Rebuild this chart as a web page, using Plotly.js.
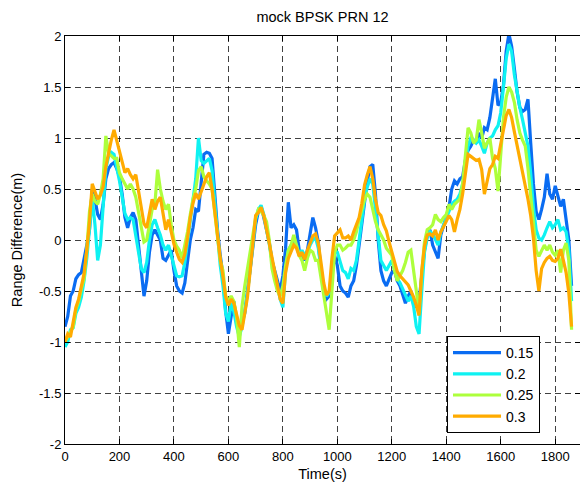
<!DOCTYPE html>
<html>
<head>
<meta charset="utf-8">
<script src="https://cdn.plot.ly/plotly-3.0.1.min.js"></script>
<style>
  html, body { margin: 0; padding: 0; background: #fff; }
  #chart { width: 580px; height: 487px; }
</style>
</head>
<body>
<div id="chart"></div>
<script>
// Range difference (m) versus time, sampled every 10 s from t = 0 to 1860 s,
// for four correlator spacings.
const timeStart = 0;
const timeStep = 10;

const series015 = [
  -0.85, -0.75, -0.55, -0.50, -0.38, -0.34, -0.32, -0.20, -0.05, 0.10,
  0.50, 0.40, 0.25, 0.20, 0.35, 0.60, 0.70, 0.74, 0.76, 0.70,
  0.62, 0.45, 0.22, 0.12, 0.22, 0.27, 0.20, -0.05, -0.30, -0.55,
  -0.40, -0.12, 0.05, 0.10, 0.05, 0.00, -0.18, -0.20, -0.15, -0.10,
  -0.30, -0.45, -0.50, -0.52, -0.42, -0.20, 0.00, 0.12, 0.30, 0.28,
  0.60, 0.84, 0.86, 0.85, 0.80, 0.40, 0.10, -0.15, -0.35, -0.70,
  -0.92, -0.75, -0.60, -0.80, -0.92, -0.80, -0.72, -0.50, -0.28, -0.05,
  0.15, 0.28, 0.33, 0.22, 0.10, -0.02, -0.20, -0.30, -0.42, -0.50,
  -0.35, -0.08, 0.37, 0.12, 0.15, 0.10, -0.10, -0.15, -0.20, -0.10,
  0.05, 0.22, 0.12, -0.02, -0.30, -0.50, -0.58, -0.55, -0.35, -0.15,
  -0.25, -0.45, -0.50, -0.52, -0.56, -0.45, -0.40, -0.25, -0.05, 0.15,
  0.40, 0.58, 0.72, 0.74, 0.45, 0.00, -0.30, -0.40, -0.45, -0.38,
  -0.32, -0.30, -0.40, -0.45, -0.55, -0.62, -0.55, -0.50, -0.60, -0.66,
  -0.60, -0.35, -0.10, 0.05, 0.10, -0.05, -0.12, -0.18, 0.05, 0.15,
  0.25, 0.32, 0.50, 0.58, 0.55, 0.60, 0.62, 0.78, 0.88, 0.92,
  0.98, 0.95, 1.05, 1.00, 1.10, 1.08, 1.20, 1.40, 1.58, 1.32,
  1.35, 1.52, 1.85, 2.02, 1.90, 1.68, 1.45, 1.30, 1.26, 1.28,
  1.38, 0.95, 0.55, 0.28, 0.20, 0.30, 0.42, 0.65, 0.45, 0.40,
  0.53, 0.43, 0.33, 0.40, 0.20, 0.00, -0.45
];

const series020 = [
  -1.05, -1.00, -0.88, -0.86, -0.72, -0.66, -0.56, -0.40, -0.18, 0.12,
  0.40, 0.15, -0.20, -0.05, 0.35, 0.70, 0.82, 0.86, 0.84, 0.72,
  0.58, 0.42, 0.26, 0.20, 0.22, 0.20, 0.06, -0.12, -0.28, -0.32,
  -0.22, 0.00, 0.15, 0.20, 0.12, 0.05, -0.05, -0.10, -0.05, -0.15,
  -0.28, -0.35, -0.36, -0.35, -0.22, 0.00, 0.20, 0.38, 0.60, 1.00,
  0.78, 0.75, 0.78, 0.80, 0.68, 0.38, 0.05, -0.25, -0.45, -0.72,
  -0.80, -0.62, -0.70, -0.85, -0.95, -0.85, -0.70, -0.52, -0.28, 0.00,
  0.20, 0.30, 0.34, 0.25, 0.12, -0.04, -0.20, -0.32, -0.46, -0.58,
  -0.66, -0.30, -0.10, -0.05, -0.02, -0.05, -0.15, -0.10, -0.15, -0.12,
  -0.05, 0.00, 0.02, -0.08, -0.28, -0.46, -0.55, -0.52, -0.30, -0.10,
  -0.12, -0.22, -0.30, -0.32, -0.38, -0.28, -0.30, -0.20, 0.00, 0.20,
  0.40, 0.52, 0.60, 0.55, 0.30, 0.05, -0.20, -0.25, -0.30, -0.25,
  -0.20, -0.30, -0.38, -0.42, -0.48, -0.55, -0.60, -0.55, -0.65, -0.85,
  -0.92, -0.50, -0.12, 0.02, 0.08, 0.06, 0.00, -0.05, 0.08, 0.15,
  0.20, 0.28, 0.35, 0.38, 0.40, 0.45, 0.55, 0.72, 0.92, 1.00,
  0.98, 0.95, 0.98, 0.92, 0.85, 0.95, 1.00, 1.02, 1.08, 1.12,
  1.25, 1.50, 1.78, 1.92, 1.85, 1.62, 1.45, 1.30, 1.18, 1.05,
  0.92, 0.65, 0.32, 0.10, 0.02, 0.00, 0.05, 0.12, 0.18, 0.12,
  0.15, 0.20, 0.10, 0.12, 0.08, -0.10, -0.60
];

const series025 = [
  -1.00, -0.95, -0.90, -0.85, -0.68, -0.60, -0.48, -0.38, -0.10, 0.28,
  0.45, 0.38, 0.35, 0.45, 0.60, 1.02, 0.85, 0.82, 0.80, 0.80,
  0.66, 0.60, 0.55, 0.50, 0.55, 0.50, 0.42, 0.26, 0.12, -0.02,
  0.00, 0.15, 0.30, 0.35, 0.69, 0.50, 0.38, 0.30, 0.35, 0.15,
  0.00, -0.06, -0.10, -0.18, -0.05, 0.08, 0.25, 0.40, 0.50, 0.68,
  0.72, 0.62, 0.58, 0.55, 0.50, 0.25, -0.02, -0.20, -0.30, -0.55,
  -0.60, -0.55, -0.60, -0.75, -1.05, -0.65, -0.45, -0.28, -0.12, 0.05,
  0.22, 0.30, 0.28, 0.24, 0.18, 0.00, -0.28, -0.40, -0.50, -0.55,
  -0.45, -0.25, -0.10, -0.05, 0.05, -0.05, -0.15, -0.20, -0.30, -0.18,
  -0.10, -0.12, -0.20, -0.20, -0.38, -0.55, -0.72, -0.88, -0.50, -0.12,
  -0.05, -0.05, -0.10, -0.08, -0.05, -0.05, 0.00, 0.08, 0.20, 0.30,
  0.40, 0.45, 0.42, 0.30, 0.18, 0.10, 0.05, 0.00, -0.08, -0.12,
  -0.15, -0.30, -0.40, -0.35, -0.30, -0.22, -0.12, -0.10, -0.30, -0.55,
  -0.70, -0.32, -0.02, 0.10, 0.12, 0.15, 0.25, 0.20, 0.18, 0.22,
  0.25, 0.35, 0.30, 0.35, 0.38, 0.40, 0.55, 0.80, 1.10, 1.05,
  0.95, 0.98, 1.18, 1.05, 0.90, 0.95, 1.00, 0.80, 0.70, 0.48,
  0.85, 1.20, 1.40, 1.50, 1.45, 1.35, 1.18, 1.05, 0.98, 0.92,
  0.70, 0.45, 0.15, -0.10, -0.16, -0.10, -0.05, -0.10, -0.05, -0.12,
  -0.15, -0.10, -0.32, -0.10, -0.03, -0.20, -0.88
];

const series030 = [
  -1.00, -0.92, -0.95, -0.80, -0.66, -0.58, -0.44, -0.33, -0.10, 0.18,
  0.55, 0.48, 0.40, 0.44, 0.52, 0.72, 0.86, 0.98, 1.08, 0.97,
  0.88, 0.78, 0.66, 0.70, 0.64, 0.60, 0.64, 0.48, 0.32, 0.16,
  0.12, 0.28, 0.40, 0.30, 0.38, 0.42, 0.24, 0.10, 0.20, 0.08,
  -0.04, -0.12, -0.19, -0.22, -0.14, 0.02, 0.22, 0.36, 0.46, 0.40,
  0.48, 0.56, 0.62, 0.66, 0.50, 0.28, 0.04, -0.18, -0.36, -0.56,
  -0.64, -0.58, -0.62, -0.72, -0.84, -0.88, -0.72, -0.56, -0.30, 0.00,
  0.24, 0.27, 0.32, 0.24, 0.10, -0.05, -0.19, -0.30, -0.44, -0.58,
  -0.62, -0.32, -0.18, -0.12, -0.05, -0.08, -0.16, -0.12, -0.19, -0.10,
  -0.02, 0.04, 0.06, -0.03, -0.22, -0.42, -0.54, -0.50, -0.18, 0.04,
  0.07, 0.10, 0.02, 0.02, 0.04, 0.00, 0.08, 0.15, 0.22, 0.36,
  0.54, 0.64, 0.72, 0.60, 0.40, 0.27, 0.24, 0.15, 0.09, -0.02,
  -0.12, -0.22, -0.31, -0.35, -0.38, -0.42, -0.44, -0.50, -0.56, -0.64,
  -0.74, -0.30, -0.06, 0.05, 0.06, 0.04, 0.10, 0.00, 0.08, 0.13,
  0.18, 0.24, 0.20, 0.08, 0.20, 0.30, 0.45, 0.63, 0.84, 0.82,
  0.80, 0.78, 0.79, 0.69, 0.45, 0.58, 0.70, 0.74, 0.82, 0.80,
  0.95, 1.10, 1.22, 1.28, 1.20, 1.06, 0.93, 0.80, 0.68, 0.56,
  0.40, 0.24, 0.02, -0.30, -0.50, -0.28, -0.22, -0.18, -0.16, -0.20,
  -0.21, -0.18, -0.09, -0.20, -0.32, -0.52, -0.85
];

const seriesNames = ['0.15', '0.2', '0.25', '0.3'];
const seriesColors = ['#0a6cf2', '#0ef2f2', '#adff3c', '#ffab00'];

const xTickValues = [0, 200, 400, 600, 800, 1000, 1200, 1400, 1600, 1800];
const xTickLabels = ['0', '200', '400', '600', '800', '1000', '1200', '1400', '1600', '1800'];
const yTickValues = [-2, -1.5, -1, -0.5, 0, 0.5, 1, 1.5, 2];
const yTickLabels = ['-2', '-1.5', '-1', '-0.5', '0', '0.5', '1', '1.5', '2'];

const allSeries = [series015, series020, series025, series030];

const traces = allSeries.map((ys, k) => ({
  type: 'scatter',
  mode: 'lines',
  name: seriesNames[k],
  x0: timeStart,
  dx: timeStep,
  y: ys,
  line: { color: seriesColors[k], width: 3.2 },
  cliponaxis: true
}));

const fontFamily = '"Liberation Sans", Arial, Helvetica, sans-serif';

const axisCommon = {
  showline: true,
  linecolor: '#000',
  linewidth: 1,
  mirror: 'ticks',
  ticks: 'inside',
  ticklen: 5,
  tickwidth: 1,
  tickcolor: '#000',
  showgrid: true,
  gridcolor: 'rgba(0,0,0,0.75)',
  gridwidth: 1,
  griddash: '6px,4px',
  zeroline: false,
  tickmode: 'array',
  tickfont: { family: fontFamily, size: 13, color: '#000' }
};

const layout = {
  width: 580,
  height: 487,
  autosize: false,
  margin: { l: 65, r: 0, t: 36, b: 43, pad: 0 },
  paper_bgcolor: '#fff',
  plot_bgcolor: '#fff',
  font: { family: fontFamily, size: 13, color: '#000' },
  title: {
    text: 'mock BPSK PRN 12',
    font: { family: fontFamily, size: 14.5, color: '#000' },
    x: 0.5, xref: 'paper', xanchor: 'center',
    y: 1 - 17 / 487, yref: 'container', yanchor: 'middle'
  },
  xaxis: Object.assign({}, axisCommon, {
    range: [0, 1891],
    tickvals: xTickValues,
    ticktext: xTickLabels,
    title: { text: 'Time(s)', font: { family: fontFamily, size: 14.5, color: '#000' }, standoff: 6 }
  }),
  yaxis: Object.assign({}, axisCommon, {
    range: [-2, 2],
    tickvals: yTickValues,
    ticktext: yTickLabels,
    title: { text: 'Range Difference(m)', font: { family: fontFamily, size: 14.5, color: '#000' }, standoff: 12 }
  }),
  showlegend: true,
  legend: {
    x: (447 - 65) / 515,
    y: (444 - 336) / 408,
    xanchor: 'left',
    yanchor: 'top',
    bgcolor: '#fff',
    bordercolor: '#000',
    borderwidth: 1,
    itemwidth: 48,
    traceorder: 'normal',
    font: { family: fontFamily, size: 14, color: '#000' }
  }
};

Plotly.newPlot('chart', traces, layout, { displayModeBar: false, staticPlot: true });
</script>
</body>
</html>
